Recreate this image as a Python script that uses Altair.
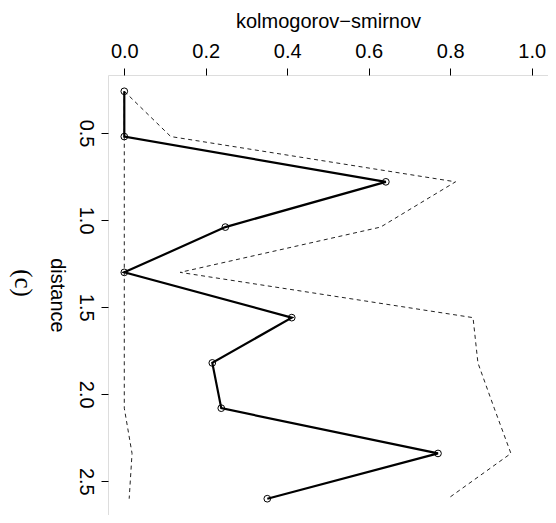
import altair as alt
import pandas as pd

# values
distance = [0.26, 0.52, 0.78, 1.04, 1.30, 1.56, 1.82, 2.08, 2.34, 2.60]
ks_stat = [0.0, 0.0, 0.642, 0.248, 0.0, 0.411, 0.216, 0.238, 0.770, 0.351]
upper_band = [0.0, 0.114, 0.813, 0.629, 0.137, 0.856, 0.868, 0.908, 0.949, 0.794]
lower_band = [0.0, 0.0, 0.0, 0.0, 0.0, 0.0, 0.0, 0.0, 0.019, 0.012]
x_ticks = [0.0, 0.2, 0.4, 0.6, 0.8, 1.0]
y_ticks = [0.5, 1.0, 1.5, 2.0, 2.5]
x_title = "kolmogorov\u2212smirnov"
y_title = "distance"
caption = "(c)"

df = pd.DataFrame({"distance": distance, "ks": ks_stat,
                   "upper": upper_band, "lower": lower_band})

FONT = "Liberation Sans"

x_scale = alt.Scale(domain=[-0.04, 1.04], nice=False, zero=False)
y_scale = alt.Scale(domain=[0.1664, 2.6936], nice=False, zero=False, reverse=True)

x_axis = alt.Axis(orient="top", values=x_ticks, format=".1f", title=x_title,
                  grid=False, domain=False, tickSize=7, tickColor="black",
                  labelPadding=7, labelFontSize=20, labelFont=FONT,
                  labelColor="black", labelFlush=False, labelOverlap=False,
                  titleFontSize=20, titleFont=FONT, titleFontWeight="normal",
                  titleColor="black", titleX=220, titleY=-47.5,
                  titleAlign="center", titleBaseline="alphabetic")

y_axis = alt.Axis(orient="left", values=y_ticks, format=".1f", title=y_title,
                  grid=False, domain=False, tickSize=7, tickColor="black",
                  labelPadding=6, labelFontSize=20, labelFont=FONT,
                  labelColor="black", labelFlush=False, labelOverlap=False,
                  labelAngle=90, labelAlign="center", labelBaseline="top",
                  titleFontSize=20, titleFont=FONT, titleFontWeight="normal",
                  titleColor="black", titleAngle=90, titleX=-58, titleY=220,
                  titleAlign="center", titleBaseline="alphabetic")

base = alt.Chart(df).encode(
    y=alt.Y("distance:Q", scale=y_scale, axis=y_axis),
    order=alt.Order("distance:Q"),
)

lower = base.mark_line(strokeDash=[4, 3.5], strokeWidth=1, color="#222").encode(
    x=alt.X("lower:Q", scale=x_scale, axis=x_axis))
upper = base.mark_line(strokeDash=[4, 3.5], strokeWidth=1, color="#222").encode(
    x=alt.X("upper:Q", scale=x_scale, axis=x_axis))
solid = base.mark_line(strokeWidth=2.2, color="black").encode(
    x=alt.X("ks:Q", scale=x_scale, axis=x_axis))
pts = base.mark_point(shape="circle", filled=False, size=45, strokeWidth=1,
                      color="black", opacity=1).encode(
    x=alt.X("ks:Q", scale=x_scale, axis=x_axis))

cap = alt.Chart(alt.Data(values=[{"label": caption}])).mark_text(
    font="Liberation Serif", fontSize=25, angle=90, align="center",
    baseline="middle", color="black").encode(
    text="label:N", x=alt.value(-85), y=alt.value(208))

chart = alt.layer(lower, upper, solid, pts, cap).properties(
    width=440, height=440,
    autosize=alt.AutoSizeParams(type="none"),
    padding={"left": 100, "top": 67, "right": 0, "bottom": 0},
).configure_view(stroke="black", strokeWidth=1).configure(background="white")

chart.save("out.html", embed_options={"renderer": "svg", "actions": False})
